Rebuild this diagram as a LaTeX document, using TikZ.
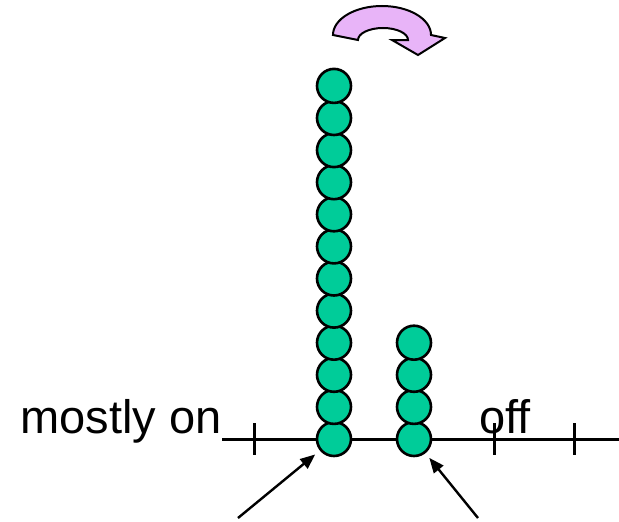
\documentclass[tikz,border=0pt]{standalone}
\usepackage{fontspec}
\setmainfont{Liberation Sans}
\usetikzlibrary{arrows.meta}
\definecolor{beadgreen}{RGB}{0,204,153}
\definecolor{violetfill}{RGB}{232,180,248}
\tikzset{
  bead/.style={circle, draw=black, fill=beadgreen, line width=2.6pt, minimum size=34pt, inner sep=0pt},
  axisline/.style={line width=3pt},
  tickmark/.style={line width=3pt},
  pointer/.style={line width=2.4pt, -{Triangle[length=15pt,width=12pt]}, shorten >=6pt},
  lbl/.style={font=\fontsize{47}{52}\selectfont, inner sep=0pt}
}
\begin{document}
\begin{tikzpicture}[x=1pt,y=-1pt]
\useasboundingbox (0,0) rectangle (619,522);
% axis
\coordinate (axL) at (222,439);
\coordinate (axR) at (619,439);
\draw[axisline] (axL) -- (axR);
\foreach \tx [count=\i] in {254,494,574}{
  \coordinate (t\i a) at (\tx,423);
  \coordinate (t\i b) at (\tx,455);
  \draw[tickmark] (t\i a) -- (t\i b);
}
% labels
\node[lbl, anchor=base east] (on) at (222,433) {mostly on};
\node[lbl, anchor=base west] (off) at (479,433) {off};
% left column of beads
\foreach \k in {1,...,12}{
  \node[bead] (L\k) at (334,{439-(\k-1)*32.1}) {};
}
% right column of beads
\foreach \k in {1,...,4}{
  \node[bead] (R\k) at (414,{439-(\k-1)*32.1}) {};
}
% pointers
\coordinate (pl) at (238,518);
\coordinate (pr) at (478,518);
\draw[pointer] (pl) -- (L1);
\draw[pointer] (pr) -- (R1);
% curved arrow
\draw[line width=2pt, fill=violetfill, line join=miter]
  (333,35) arc[start angle=180, end angle=360, x radius=49, y radius=29]
  -- (445,38) -- (418,55) -- (392,40) -- (408,40)
  arc[start angle=360, end angle=180, x radius=25, y radius=12]
  -- cycle;
\end{tikzpicture}
\end{document}
